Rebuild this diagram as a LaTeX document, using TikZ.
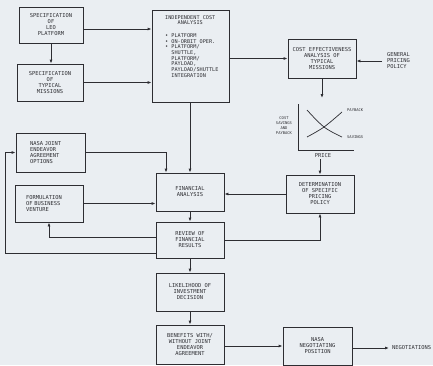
\documentclass[tikz,border=0pt]{standalone}
\usepackage{fontspec}
\newfontfamily\lero{DejaVu Sans Mono}
\usetikzlibrary{arrows.meta}
\definecolor{bg}{RGB}{234,238,242}
\definecolor{ink}{RGB}{45,45,50}
\begin{document}
\begin{tikzpicture}[x=1pt,y=-1pt,
  box/.style={draw=ink, line width=0.8pt, rectangle, inner sep=0pt, align=center,
    font=\lero\fontsize{5.4}{6}\selectfont, text=ink},
  txt/.style={inner sep=1pt, font=\lero\fontsize{5.4}{6}\selectfont, text=ink},
  icaf/.style={inner sep=1pt, font=\lero\fontsize{5.2}{5.7}\selectfont, text=ink},
  small/.style={inner sep=1pt, font=\lero\fontsize{3.8}{5}\selectfont, text=ink},
  arr/.style={draw=ink, line width=0.8pt, -{Latex[length=4pt,width=3pt]}},
  ln/.style={draw=ink, line width=0.8pt}]
\fill[bg] (0,0) rectangle (433,365);
\useasboundingbox (0,0) rectangle (433,365);

% top left
\node[box, minimum width=64pt, minimum height=36pt] (leo) at (51,25) {SPECIFICATION\\OF\\LEO\\PLATFORM};
\node[box, minimum width=66pt, minimum height=37pt] (miss) at (50,82.5) {SPECIFICATION\\OF\\TYPICAL\\MISSIONS};
\draw[arr] (leo.south) -- (leo.south |- miss.north);

% independent cost analysis
\node[box, minimum width=77pt, minimum height=92pt] (ica) at (190.5,56) {};
\node[icaf, anchor=north west, align=left] (icat) at (164,14) {INDEPENDENT COST\\
\phantom{XXXX}ANALYSIS\\[7pt]
•\phantom{X}PLATFORM\\
•\phantom{X}ON-ORBIT OPER.\\
•\phantom{X}PLATFORM/\\
\phantom{XX}SHUTTLE,\\
\phantom{XX}PLATFORM/\\
\phantom{XX}PAYLOAD,\\
\phantom{XX}PAYLOAD/SHUTTLE\\
\phantom{XX}INTEGRATION};
\draw[arr] ([yshift=-4pt]leo.east) -- ([yshift=-4pt]leo.east -| ica.west);
\draw[arr] (miss.east) -- (miss.east -| ica.west);

% cost effectiveness
\node[box, minimum width=68pt, minimum height=39pt] (ce) at (322,58.5) {COST EFFECTIVENESS\\ANALYSIS OF\\TYPICAL\\MISSIONS};
\draw[arr] (ica.east |- ce.west) -- (ce.west);
\node[txt, anchor=west, align=left] (gpp) at (386,61) {GENERAL\\PRICING\\POLICY};
\draw[arr] ([xshift=-4pt]gpp.west) -- (gpp.west -| ce.east);
\coordinate (gtop) at (322,98);
\draw[arr] (ce.south) -- (gtop);

% graph
\coordinate (ytop) at (298,104);
\coordinate (orig) at (298,150);
\coordinate (xend) at (354,150);
\draw[ln] (ytop) -- (orig) -- (xend);
\draw[ln, line width=0.7pt] plot[smooth, tension=0.6] coordinates {(307,110) (324,127) (342,137)};
\draw[ln, line width=0.7pt] plot[smooth, tension=0.6] coordinates {(307,137) (324,127) (342,112)};
\node[small, anchor=west] (pb) at (346,110) {PAYBACK};
\node[small, anchor=west] (sv) at (346,137) {SAVINGS};
\node[small, align=center] (yl) at (284,126) {COST\\SAVINGS\\AND\\PAYBACK};
\node[txt] (price) at (323,156) {PRICE};

% determination
\node[box, minimum width=68pt, minimum height=38pt] (det) at (320,194) {DETERMINATION\\OF SPECIFIC\\PRICING\\POLICY};
\draw[arr] (det.north |- price.south) -- (det.north);

% financial analysis
\node[box, minimum width=68pt, minimum height=38pt] (fa) at (190,192) {FINANCIAL\\ANALYSIS};
\draw[arr] (det.west) -- (det.west -| fa.east);
\draw[arr] (fa.north |- ica.south) -- (fa.north);

% left boxes
\node[box, minimum height=39pt, text width=41pt, inner xsep=14pt, align=left] (nasaj) at (50.5,152.5) {NASA JOINT\\ENDEAVOR\\AGREEMENT\\OPTIONS};
\draw[arr] (nasaj.east) -| ([xshift=-24pt]fa.north);
\node[box, minimum height=37pt, text width=46pt, inner xsep=11pt, align=left] (form) at (49,203.5) {FORMULATION\\OF BUSINESS\\VENTURE};
\draw[arr] (form.east) -- (form.east -| fa.west);

% review
\node[box, minimum width=68pt, minimum height=36pt] (rev) at (190,240) {REVIEW OF\\FINANCIAL\\RESULTS};
\draw[arr] (fa.south) -- (rev.north);
\draw[arr] ([yshift=3pt]rev.west) -| (form.south);
\draw[arr] (rev.east) -| (det.south);
\coordinate (lx) at (5,0);
\draw[arr] ([yshift=-13pt]rev.west) -| (lx |- nasaj.west) -- (nasaj.west);

% lower column
\node[box, minimum width=68pt, minimum height=38pt] (lik) at (190,292) {LIKELIHOOD OF\\INVESTMENT\\DECISION};
\draw[arr] (rev.south) -- (lik.north);
\node[box, minimum width=68pt, minimum height=39pt] (ben) at (190,344.5) {BENEFITS WITH/\\WITHOUT JOINT\\ENDEAVOR\\AGREEMENT};
\draw[arr] (lik.south) -- (ben.north);
\node[box, minimum width=69pt, minimum height=38pt] (nneg) at (317.5,346) {NASA\\NEGOTIATING\\POSITION};
\draw[arr] (ben.east |- nneg.west) -- (nneg.west);
\node[txt, anchor=west] (neg) at (391,348) {NEGOTIATIONS};
\draw[arr] (nneg.east |- neg.west) -- ([xshift=-2pt]neg.west);
\end{tikzpicture}
\end{document}
